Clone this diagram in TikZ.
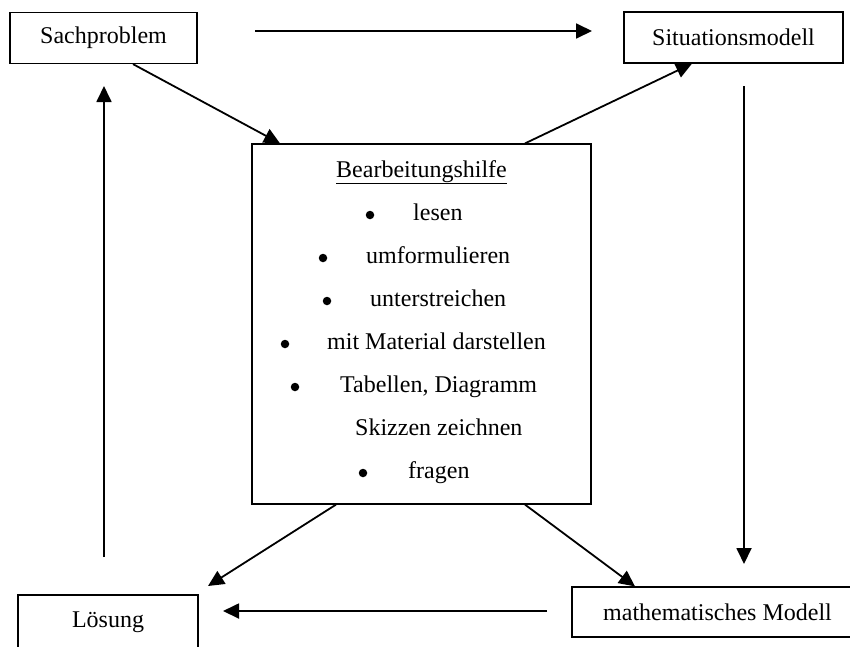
\documentclass[tikz,border=0pt]{standalone}
\usepackage{fontspec}
\setmainfont{Liberation Serif}
\usetikzlibrary{arrows.meta,calc}
\begin{document}
\begin{tikzpicture}[x=1pt,y=-1pt,
  every node/.style={font=\fontsize{24}{28}\selectfont},
  boxed/.style={draw,line width=1.2pt,inner sep=0pt},
  item/.style={anchor=base west,inner sep=0pt},
  dot/.style={circle,fill,inner sep=0pt,minimum size=8.5pt},
  conn/.style={line width=1.8pt,-{Triangle[length=16pt,width=15pt]}}]
\useasboundingbox (0,0) rectangle (850,646);
\clip (0,0) rectangle (850,646);
% boxes
\node[boxed,minimum width=187pt,minimum height=51pt] (sach) at (103.5,38) {Sachproblem};
\node[boxed,minimum width=219pt,minimum height=51pt] (sit) at (733.5,37.5) {Situationsmodell};
\node[boxed,minimum width=339pt,minimum height=360pt] (hilfe) at (421.5,324) {};
\node[boxed,minimum width=180pt,minimum height=54pt] (loes) at (108,622) {Lösung};
\node[boxed,minimum width=291pt,minimum height=50pt] (math) at (717.5,612) {mathematisches Modell};
% content of Bearbeitungshilfe
\node[item] (t0) at (336,177) {\underline{Bearbeitungshilfe}};
\node[dot] (b1) at (370,215) {};
\node[item] (t1) at (413,220) {lesen};
\node[dot] (b2) at (323,258) {};
\node[item] (t2) at (366,263) {umformulieren};
\node[dot] (b3) at (327,301) {};
\node[item] (t3) at (370,306) {unterstreichen};
\node[dot] (b4) at (285,344) {};
\node[item] (t4) at (327,349) {mit Material darstellen};
\node[dot] (b5) at (295,387) {};
\node[item] (t5) at (340,392) {Tabellen, Diagramm};
\node[item] (t6) at (355,435) {Skizzen zeichnen};
\node[dot] (b7) at (363,473) {};
\node[item] (t7) at (408,478) {fragen};
% free connector ends
\coordinate (topA) at (255,31);
\coordinate (topB) at (592,31);
\coordinate (leftA) at (104,557);
\coordinate (leftB) at (104,86);
\coordinate (rightA) at (744,86);
\coordinate (rightB) at (744,564);
\coordinate (botA) at (547,611);
\coordinate (botB) at (223,611);
\coordinate (loesTip) at (208,586);
% connectors
\draw[conn] (topA) -- (topB);
\draw[conn] ([xshift=29.5pt]sach.south) -- ([xshift=-141.5pt]hilfe.north);
\draw[conn] ([xshift=103.5pt]hilfe.north) -- ([xshift=-41.5pt]sit.south);
\draw[conn] (leftA) -- (leftB);
\draw[conn] (rightA) -- (rightB);
\draw[conn] ([xshift=-85.5pt]hilfe.south) -- (loesTip);
\draw[conn] ([xshift=103.5pt]hilfe.south) -- ([xshift=-82.5pt]math.north);
\draw[conn] (botA) -- (botB);
\end{tikzpicture}
\end{document}
